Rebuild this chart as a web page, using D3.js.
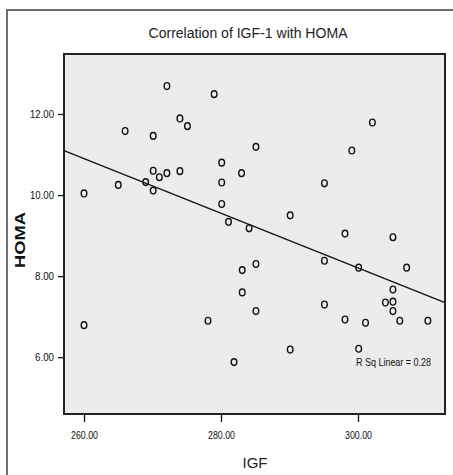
<!DOCTYPE html>
<html>
<head>
<meta charset="utf-8">
<script src="https://cdn.jsdelivr.net/npm/d3@7"></script>
<style>
  body { margin: 0; background: #fff; }
  svg { display: block; font-family: "Liberation Sans", Arial, sans-serif; }
</style>
</head>
<body>
<svg id="chart" width="453" height="475"></svg>
<script>
// IGF values (x) and HOMA values (y)
const igf = [
  272.1, 279.0, 274.0, 275.1, 266.0, 270.1, 285.1, 280.1, 283.0, 270.1,
  272.1, 271.0, 274.0, 265.0, 269.0, 270.1, 260.0, 280.1, 280.1, 281.1,
  284.1, 302.1, 299.1, 295.1, 290.1, 298.1, 305.1, 285.1, 283.1, 283.1,
  285.1, 260.0, 278.1, 281.9, 295.1, 300.1, 307.1, 305.1, 304.0, 305.1,
  305.1, 295.1, 298.1, 301.1, 306.1, 310.2, 290.1, 300.1
];
const homa = [
  12.69, 12.49, 11.89, 11.70, 11.58, 11.46, 11.19, 10.80, 10.54, 10.60,
  10.54, 10.44, 10.59, 10.25, 10.32, 10.11, 10.04, 10.31, 9.78, 9.34,
  9.18, 11.79, 11.10, 10.29, 9.50, 9.05, 8.96, 8.30, 8.15, 7.60,
  7.14, 6.79, 6.90, 5.88, 8.38, 8.21, 8.21, 7.67, 7.35, 7.37,
  7.14, 7.30, 6.93, 6.85, 6.90, 6.90, 6.19, 6.21
];
const xTicks = [260, 280, 300];
const yTicks = [6, 8, 10, 12];
const rSqLabel = 'R Sq Linear = 0.28';

const svg = d3.select('#chart');
const PLOT = { left: 64, right: 445, top: 54, bottom: 414 };

const x = d3.scaleLinear().domain([257.08, 312.7]).range([PLOT.left, PLOT.right]);
const y = d3.scaleLinear().domain([4.6, 13.48]).range([PLOT.bottom, PLOT.top]);

// outer frame lines (top and left)
svg.append('path')
  .attr('d', 'M7,475 V10 H453')
  .attr('fill', 'none')
  .attr('stroke', '#6f6f6f')
  .attr('stroke-width', 2);

// title
svg.append('text')
  .attr('x', 248).attr('y', 38)
  .attr('text-anchor', 'middle')
  .attr('font-size', 14)
  .attr('fill', '#222')
  .attr('textLength', 199)
  .attr('lengthAdjust', 'spacingAndGlyphs')
  .text('Correlation of IGF-1 with HOMA');

// plot background
svg.append('rect')
  .attr('x', PLOT.left).attr('y', PLOT.top)
  .attr('width', PLOT.right - PLOT.left)
  .attr('height', PLOT.bottom - PLOT.top)
  .attr('fill', '#ececec');

// axes
const xAxis = svg.append('g')
  .attr('transform', `translate(0,${PLOT.bottom})`)
  .call(d3.axisBottom(x).tickValues(xTicks).tickSize(8).tickPadding(9)
    .tickFormat(d3.format('.2f')));
const yAxis = svg.append('g')
  .attr('transform', `translate(${PLOT.left},0)`)
  .call(d3.axisLeft(y).tickValues(yTicks).tickSize(6).tickPadding(4)
    .tickFormat(d3.format('.2f')));

[xAxis, yAxis].forEach(g => {
  g.select('.domain').remove();
  g.selectAll('line').attr('stroke', '#111').attr('stroke-width', 1.3);
  g.selectAll('text')
    .attr('font-size', 11)
    .attr('fill', '#111')
    .attr('font-family', '"Liberation Sans", Arial, sans-serif')
    .attr('lengthAdjust', 'spacingAndGlyphs')
    .attr('textLength', d => (d >= 100 ? 27 : (d >= 10 ? 24 : 19)));
});

// regression line from least squares on the data
const mx = d3.mean(igf);
const my = d3.mean(homa);
let sxy = 0;
let sxx = 0;
igf.forEach((v, i) => {
  sxy += (v - mx) * (homa[i] - my);
  sxx += (v - mx) * (v - mx);
});
const slope = sxy / sxx;
const intercept = my - slope * mx;
const [x0, x1] = x.domain();
svg.append('line')
  .attr('x1', x(x0)).attr('y1', y(intercept + slope * x0))
  .attr('x2', x(x1)).attr('y2', y(intercept + slope * x1))
  .attr('stroke', '#111')
  .attr('stroke-width', 1.3);

// points
svg.append('g')
  .selectAll('ellipse')
  .data(igf)
  .join('ellipse')
  .attr('cx', d => x(d))
  .attr('cy', (d, i) => y(homa[i]))
  .attr('rx', 2.8)
  .attr('ry', 3.4)
  .attr('fill', 'none')
  .attr('stroke', '#111')
  .attr('stroke-width', 1.4);

// plot border
svg.append('rect')
  .attr('x', PLOT.left).attr('y', PLOT.top)
  .attr('width', PLOT.right - PLOT.left)
  .attr('height', PLOT.bottom - PLOT.top)
  .attr('fill', 'none')
  .attr('stroke', '#222')
  .attr('stroke-width', 2);

// R squared annotation
svg.append('text')
  .attr('x', 356).attr('y', 366)
  .attr('font-size', 11)
  .attr('fill', '#111')
  .attr('textLength', 75)
  .attr('lengthAdjust', 'spacingAndGlyphs')
  .text(rSqLabel);

// axis titles
svg.append('text')
  .attr('x', 255).attr('y', 468)
  .attr('text-anchor', 'middle')
  .attr('font-size', 15)
  .attr('fill', '#222')
  .text('IGF');

svg.append('text')
  .attr('transform', 'translate(25,240) rotate(-90)')
  .attr('text-anchor', 'middle')
  .attr('font-size', 14)
  .attr('font-weight', 'bold')
  .attr('fill', '#111')
  .attr('textLength', 56)
  .attr('lengthAdjust', 'spacingAndGlyphs')
  .text('HOMA');
</script>
</body>
</html>
